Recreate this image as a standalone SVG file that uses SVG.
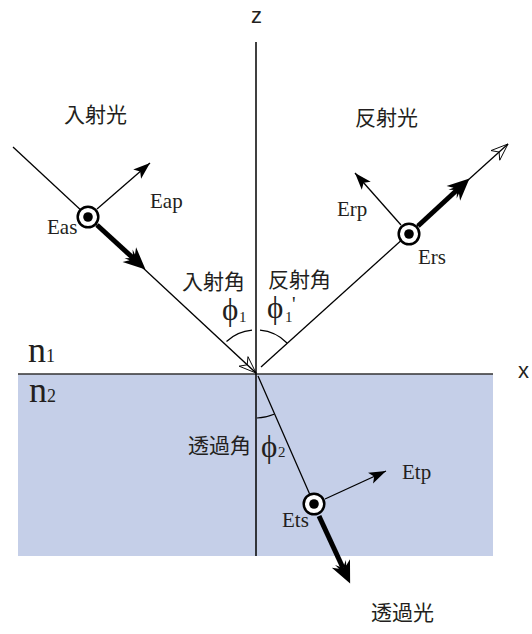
<svg xmlns="http://www.w3.org/2000/svg" width="532" height="634" viewBox="0 0 532 634">
<style>
.ln{stroke:#000;stroke-width:1.3;fill:none}
.thk{stroke:#000;stroke-width:5;fill:none}
.arc{stroke:#000;stroke-width:1.2;fill:none}
.cj{font-family:"Noto Sans CJK JP","Noto Sans CJK SC",sans-serif;font-size:21px;fill:#231f20}
.rm{font-family:"Liberation Serif","Times New Roman",serif;font-size:21px;fill:#231f20}
.ax{font-family:"Liberation Sans",Arial,sans-serif;font-size:22px;fill:#231f20}
.phi{font-family:"Liberation Serif","DejaVu Serif",serif;font-size:31px;fill:#231f20}
.sub{font-family:"Liberation Serif","Times New Roman",serif;font-size:15px;fill:#231f20}
.ring{fill:#fff;stroke:#000;stroke-width:2.5}
</style>
<defs>
<marker id="open" markerUnits="userSpaceOnUse" markerWidth="24" markerHeight="16" viewBox="-18 -8 20 16" refX="0" refY="0" orient="auto" overflow="visible">
<path d="M0,0 L-17,-6.5 L-12,0 L-17,6.5 Z" fill="none" stroke="#000" stroke-width="0.9"/>
</marker>
<marker id="fill" markerUnits="userSpaceOnUse" markerWidth="24" markerHeight="16" viewBox="-18 -8 20 16" refX="0" refY="0" orient="auto" overflow="visible">
<path d="M0,0 L-17,-6 L-13,0 L-17,6 Z" fill="#000"/>
</marker>
<marker id="big" markerUnits="userSpaceOnUse" markerWidth="30" markerHeight="24" viewBox="-8 -12 30 24" refX="0" refY="0" orient="auto" overflow="visible">
<path d="M17,0 L-5,-10 L-1,-4 L-6,-6 L0,0 L-6,6 L-1,4 L-5,10 Z" fill="#000"/>
</marker>
</defs>

<g id="medium">
<rect x="18" y="374" width="475" height="182" fill="#c5cfe8"/>
<line x1="18" y1="374" x2="493" y2="374" stroke="#333" stroke-width="1.5"/>
<line x1="256" y1="42" x2="256" y2="556" stroke="#000" stroke-width="1.5"/>
<text class="ax" x="251" y="23">z</text>
<text class="ax" x="518" y="378">x</text>
<text class="rm" x="28" y="362" style="font-size:36px">n</text>
<text class="rm" x="46" y="362" style="font-size:18px">1</text>
<text class="rm" x="29" y="402" style="font-size:36px">n</text>
<text class="rm" x="47" y="402" style="font-size:18px">2</text>
</g>

<g id="connectors">
<line class="ln" x1="13" y1="147" x2="256" y2="373" marker-end="url(#open)"/>
<line class="ln" x1="261" y1="367" x2="508" y2="144" marker-end="url(#open)"/>
<line class="ln" x1="258" y1="376" x2="314" y2="504"/>
<line class="ln" x1="97" y1="209" x2="150" y2="163" marker-end="url(#fill)"/>
<line class="thk" x1="97" y1="225" x2="133" y2="258" marker-end="url(#big)"/>
<line class="ln" x1="401" y1="225" x2="355" y2="173" marker-end="url(#fill)"/>
<line class="thk" x1="418" y1="226" x2="457" y2="190" marker-end="url(#big)"/>
<line class="ln" x1="325" y1="499" x2="386" y2="471" marker-end="url(#fill)"/>
<line class="thk" x1="319" y1="516" x2="343" y2="568" marker-end="url(#big)"/>
<path class="arc" d="M226.5,341.5 A43,43 0 0 1 252,330.2"/>
<path class="arc" d="M260,330.2 A43,43 0 0 1 287,343"/>
<path class="arc" d="M257,418 A45,45 0 0 0 274,414.3"/>
</g>

<g id="incident">
<text class="cj" x="64" y="122">入射光</text>
<circle class="ring" cx="88" cy="217" r="10.3"/>
<circle cx="88" cy="217" r="4.8" fill="#000"/>
<text class="rm" x="150" y="208">Eap</text>
<text class="rm" x="47" y="234">Eas</text>
<text class="cj" x="182" y="289">入射角</text>
<text class="phi" x="222" y="320">ϕ</text>
<text class="sub" x="239" y="322">1</text>
</g>

<g id="reflected">
<text class="cj" x="268" y="287">反射角</text>
<text class="cj" x="355" y="125">反射光</text>
<circle class="ring" cx="409" cy="234" r="10.3"/>
<circle cx="409" cy="234" r="4.8" fill="#000"/>
<text class="rm" x="337" y="216">Erp</text>
<text class="rm" x="418" y="264">Ers</text>
<text class="phi" x="267" y="318">ϕ</text>
<text class="sub" x="285" y="322">1</text>
<text class="rm" x="292" y="311" style="font-size:20px">'</text>
</g>

<g id="transmitted">
<text class="cj" x="371" y="620">透過光</text>
<circle class="ring" cx="314" cy="504" r="10.3"/>
<circle cx="314" cy="504" r="4.8" fill="#000"/>
<text class="rm" x="402" y="479">Etp</text>
<text class="rm" x="282" y="527">Ets</text>
<text class="cj" x="188" y="453">透過角</text>
<text class="phi" x="261" y="457">ϕ</text>
<text class="sub" x="278" y="457">2</text>
</g>
</svg>
